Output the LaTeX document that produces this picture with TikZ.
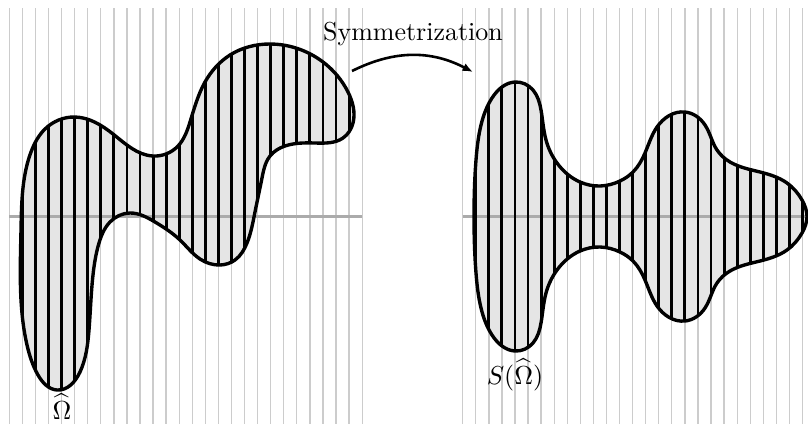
\documentclass[tikz,border=0pt]{standalone}
\usetikzlibrary{arrows.meta,hobby}
\begin{document}
\begin{tikzpicture}[x=0.385pt,y=-0.385pt,
  gridline/.style={draw=gray!40, line width=0.5pt},
  axisline/.style={draw=black!33, line width=0.9pt},
  hatch/.style={draw=black, line width=1.1pt},
  blob/.style={draw=black, line width=1.3pt},
  hob/.style={use Hobby shortcut, closed=true},
  lbl/.style={anchor=base, inner sep=0pt},
  arr/.style={draw=black, line width=1pt, -{Latex[length=4pt,width=3.2pt]}}]
\def\leftP{(75,117) .. (113,134) .. (153,156) .. (178,146) .. (190,122) .. (205,82) .. (230,55) .. (270,44) .. (323,62) .. (348,92) .. (353,123) .. (343,138) .. (315,143) .. (285,146) .. (270,156) .. (262,178) .. (255,212) .. (247,243) .. (235,260) .. (220,265) .. (200,259) .. (180,240) .. (155,222) .. (130,213) .. (110,222) .. (99,243) .. (93,275) .. (89,330) .. (80,372) .. (57,390) .. (38,375) .. (27,345) .. (21,300) .. (21,230) .. (24,180) .. (31,152) .. (45,129)}
\def\rightP{(474,216.5) .. (476,160) .. (481,125) .. (492,98) .. (515,82) .. (533,90) .. (541,110) .. (546,140) .. (557,163) .. (580,182) .. (600,186) .. (620,181) .. (633,172) .. (645,153) .. (657,127) .. (685,112) .. (705,125) .. (717,150) .. (730,162) .. (760,172) .. (787,183) .. (802,200) .. (807,216.5) .. (802,233) .. (787,250) .. (760,261) .. (730,271) .. (717,283) .. (705,308) .. (685,321) .. (657,306) .. (645,280) .. (633,261) .. (620,252) .. (600,247) .. (580,251) .. (557,270) .. (546,293) .. (541,323) .. (533,343) .. (515,351) .. (492,335) .. (481,308) .. (476,273)}
\useasboundingbox (0,0) rectangle (808,424);
% grids
\foreach \k in {0,...,27} \draw[gridline] ({9.3+13.07*\k},8) -- ({9.3+13.07*\k},424);
\foreach \k in {0,...,26} \draw[gridline] ({462.7+13.07*\k},8) -- ({462.7+13.07*\k},424);
% fills
\fill[gray!20, hob] \leftP;
\fill[gray!20, hob] \rightP;
% axes
\draw[axisline] (9.3,216.5) -- (362.3,216.5);
\draw[axisline] (462.7,216.5) -- (808,216.5);
% hatching
\begin{scope}
  \clip[hob] \leftP;
  \foreach \k in {0,...,27} \draw[hatch] ({9.3+13.07*\k},0) -- ({9.3+13.07*\k},424);
\end{scope}
\begin{scope}
  \clip[hob] \rightP;
  \foreach \k in {0,...,26} \draw[hatch] ({462.7+13.07*\k},0) -- ({462.7+13.07*\k},424);
\end{scope}
% outlines
\draw[blob, hob] \leftP;
\draw[blob, hob] \rightP;
% labels
\node[lbl] (sym) at (413,40) {Symmetrization};
\node[lbl] (omega) at (62,419) {$\widehat{\Omega}$};
\node[lbl] (somega) at (515,384) {$S(\widehat{\Omega})$};
% arrow
\coordinate (arrS) at (352,71);
\coordinate (arrE) at (473,72);
\draw[arr] (arrS) to[bend left=27] (arrE);
\end{tikzpicture}
\end{document}
